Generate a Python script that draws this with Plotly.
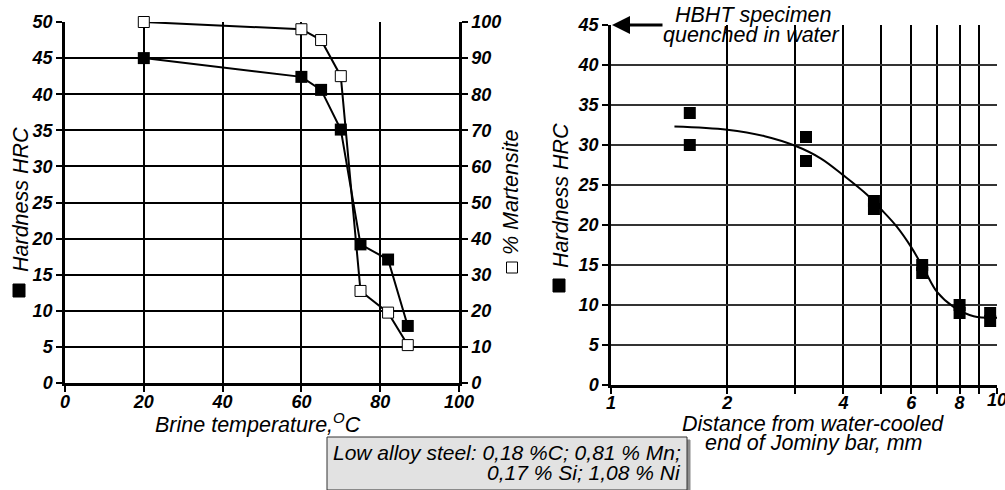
import plotly.graph_objects as go

# ---------------- Data ----------------
# Left chart: brine quench temperature
brine_temp = [20, 60, 65, 70, 75, 82, 87]
hardness_brine = [45, 42.4, 40.6, 35.1, 19.2, 17.1, 7.9]
martensite_pct = [100, 98, 95, 85, 25.5, 19.5, 10.5]

# Right chart: Jominy end-quench test
jominy_dist = [1.6, 1.6, 3.2, 3.2, 4.8, 4.8, 6.4, 6.4, 8.0, 8.0, 9.6, 9.6]
jominy_hrc = [34, 30, 31, 28, 23, 22, 15, 14, 10, 9, 9, 8]
curve_dist = [1.46, 2.0, 2.5, 3.0, 3.5, 4.0, 4.6, 5.0, 5.5, 6.0, 6.5, 7.0, 7.7, 8.7, 10.0]
curve_hrc = [32.3, 31.9, 31.1, 29.9, 28.3, 26.2, 23.8, 22.0, 19.8, 17.2, 14.3, 11.6, 9.8, 8.6, 8.4]

left_x_ticks = [0, 20, 40, 60, 80, 100]
right_x_major = [1, 2, 4, 6, 8]
right_x_last = 10
right_x_minor = [3, 5, 7, 9, 10]

W, H = 1005, 490
def px(x):
    return x / W
def py(y):
    return 1 - y / H

FONT = "Liberation Sans"
tickfont = dict(family=FONT, size=18, color="black", style="italic", weight="bold")
titlefont = dict(family=FONT, size=21.5, color="black", style="italic")
notefont = dict(family=FONT, size=21, color="black", style="italic")

fig = go.Figure()

fig.add_trace(go.Scatter(
    x=brine_temp, y=hardness_brine, xaxis="x", yaxis="y",
    mode="lines+markers", line=dict(color="black", width=2),
    marker=dict(symbol="square", size=12, color="black"),
    showlegend=False, cliponaxis=False))

fig.add_trace(go.Scatter(
    x=brine_temp, y=martensite_pct, xaxis="x", yaxis="y2",
    mode="lines+markers", line=dict(color="black", width=2),
    marker=dict(symbol="square", size=11, color="white", line=dict(color="black", width=1)),
    showlegend=False, cliponaxis=False))

fig.add_trace(go.Scatter(
    x=curve_dist, y=curve_hrc, xaxis="x3", yaxis="y3",
    mode="lines", line=dict(color="black", width=2, shape="spline", smoothing=1.0),
    showlegend=False))

fig.add_trace(go.Scatter(
    x=jominy_dist, y=jominy_hrc, xaxis="x3", yaxis="y3",
    mode="markers", marker=dict(symbol="square", size=12, color="black"),
    showlegend=False, cliponaxis=False))

axis_common = dict(
    showline=True, linecolor="black", linewidth=2.5,
    ticks="outside", ticklen=6, tickwidth=1.5, tickcolor="black",
    tickfont=tickfont, zeroline=False, automargin=False,
)

fig.update_layout(
    width=W, height=H,
    margin=dict(l=0, r=0, t=0, b=0),
    paper_bgcolor="white", plot_bgcolor="white",
    showlegend=False,
    xaxis=dict(domain=[px(65), px(459)], range=[0, 100], tickvals=left_x_ticks,
               ticklabelstandoff=-5,
               showgrid=True, gridcolor="black", gridwidth=1.5, anchor="y", **axis_common),
    yaxis=dict(domain=[py(383), py(22)], range=[0, 50], dtick=5,
               showgrid=True, gridcolor="black", gridwidth=1.5, anchor="x", **axis_common),
    yaxis2=dict(overlaying="y", side="right", range=[0, 100], dtick=10,
                showgrid=False, anchor="x", **axis_common),
    xaxis3=dict(domain=[px(611), px(997)], type="log", range=[0, 1],
                tickvals=right_x_major, ticklabelstandoff=-6,
                minor=dict(tickvals=right_x_minor, ticks="outside", ticklen=6, tickwidth=1.5,
                           tickcolor="black", showgrid=True, gridcolor="black", gridwidth=1.5),
                showgrid=True, gridcolor="black", gridwidth=1.5, anchor="y3", **axis_common),
    yaxis3=dict(domain=[py(385), py(25)], range=[0, 45], dtick=5,
                showgrid=True, gridcolor="#333333", gridwidth=1.5, anchor="x3", **axis_common),
)

annotations = [
    dict(text="Brine temperature,<sup>O</sup>C", x=px(258), y=py(423), font=titlefont),
    dict(text="Hardness HRC", x=px(21), y=py(200), textangle=-90, font=titlefont),
    dict(text="% Martensite", x=px(511), y=py(192), textangle=-90, font=titlefont),
    dict(text="Hardness HRC", x=px(561), y=py(196), textangle=-90, font=titlefont),
    dict(text="Distance from water-cooled", x=px(813), y=py(424), font=titlefont),
    dict(text="end of Jominy bar, mm", x=px(813), y=py(443), font=titlefont),
    dict(text="HBHT specimen", x=px(753), y=py(15), font=titlefont),
    dict(text="quenched in water", x=px(751), y=py(35), font=titlefont),
    dict(text="Low alloy steel: 0,18 %C; 0,81 % Mn;", x=px(683), y=py(452), xanchor="right",
         font=notefont),
    dict(text="0,17 % Si; 1,08 % Ni", x=px(683), y=py(472), xanchor="right", font=notefont),
]
for a in annotations:
    a.setdefault("xanchor", "center")
    a.setdefault("yanchor", "middle")
    fig.add_annotation(xref="paper", yref="paper", showarrow=False, **a)

# last log-axis tick label (sits at the very edge of the figure)
fig.add_annotation(xref="x3", yref="paper", x=1, y=py(400), text=str(right_x_last),
                   showarrow=False, xanchor="center", yanchor="middle", font=tickfont)

# arrow pointing to 45 HRC level
fig.add_annotation(xref="paper", yref="paper", x=px(612), y=py(25),
                   ax=52, ay=0, axref="pixel", ayref="pixel",
                   text="", showarrow=True, arrowhead=2, arrowsize=1.2,
                   arrowwidth=3, arrowcolor="black")

shapes = [
    # legend squares
    dict(type="rect", x0=px(13), x1=px(25), y0=py(297), y1=py(284),
         fillcolor="black", line=dict(color="black", width=1)),
    dict(type="rect", x0=px(506.5), x1=px(517.5), y0=py(273), y1=py(262),
         fillcolor="white", line=dict(color="black", width=1)),
    dict(type="rect", x0=px(553), x1=px(565), y0=py(292), y1=py(279),
         fillcolor="black", line=dict(color="black", width=1)),
    # note box shadow + box
    dict(type="rect", x0=px(330), x1=px(690), y0=py(493), y1=py(440),
         fillcolor="#8c8c8c", line=dict(color="#8c8c8c", width=1)),
    dict(type="rect", x0=px(327), x1=px(687), y0=py(490), y1=py(437),
         fillcolor="#e2e2e2", line=dict(color="#333333", width=1)),
]
for s in shapes:
    fig.add_shape(xref="paper", yref="paper", layer="above", **s)

fig.write_html("out.html", config={"displayModeBar": False},
               post_script="document.body.style.margin='0px';document.body.style.overflow='hidden';")
